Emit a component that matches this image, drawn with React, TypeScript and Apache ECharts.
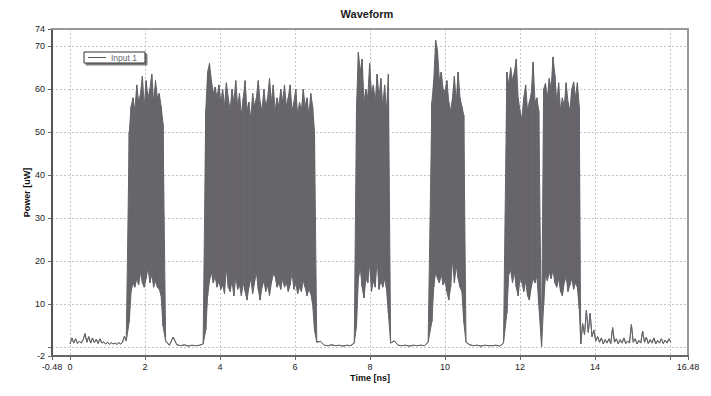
import { useEffect, useRef } from 'react';
import * as echarts from 'echarts';

const FONT = 'Liberation Sans, Arial, Helvetica, sans-serif';
const WAVE_COLOR = '#67656a';

// Axis ticks / labels
const xLabelValues = [-0.48, 0, 2, 4, 6, 8, 10, 12, 14, 16.48];
const xTickValues = [-0.48, 0, 2, 4, 6, 8, 10, 12, 14, 16, 16.48];
const yLabelValues = [-2, 10, 20, 30, 40, 50, 60, 70, 74];
const yTickValues = [-2, 0, 10, 20, 30, 40, 50, 60, 70, 74];

// Quiet (baseline) segments: start time [ns], sample step [ns], values [uW]
const quiet0Start = 0;
const quietStep = 0.05;
const quiet0 = [0.8, 2.2, 1.0, 2.0, 0.9, 1.4, 1.0, 1.8, 3.2, 1.2, 2.5, 1.0, 2.2, 1.1, 1.9, 0.9, 2.0, 1.0, 1.3, 0.8, 1.2, 0.7, 1.1, 0.8, 1.0, 0.7, 1.1, 0.8, 1.2, 2.6, 1.5];

const gapStarts = [2.55, 6.58, 8.55, 10.56];
const gapStep = 0.1;
const gap1 = [1.5, 0.5, 2.4, 0.6, 0.4, 0.6, 0.3, 0.5, 0.4, 0.5, 0.8];
const gap2 = [1.2, 1.4, 0.5, 0.4, 0.6, 0.4, 0.5, 0.3, 0.5, 0.4, 1.0];
const gap3 = [1.0, 1.5, 0.5, 0.4, 0.5, 0.3, 0.5, 0.4, 0.5, 0.4, 1.2];
const gap4 = [1.2, 0.6, 0.4, 0.5, 0.3, 0.5, 0.4, 0.4, 0.5, 0.3, 1.0];

const dipTime = 12.575;
const dipValue = 0.2;

const tailStart = 13.62;
const tail = [0.8, 5.5, 3.0, 8.6, 3.5, 7.9, 2.5, 4.0, 1.5, 2.5, 1.2, 2.2, 0.8, 1.8, 1.0, 2.0, 0.9, 4.6, 1.2, 2.0, 0.8, 1.8, 1.0, 2.2, 0.9, 1.5, 1.0, 5.3, 1.2, 2.0, 0.8, 1.6, 1.0, 3.8, 1.2, 2.4, 0.9, 1.8, 1.0, 2.2, 0.8, 1.6, 1.0, 2.0, 0.9, 1.7, 1.0, 2.0, 1.2];

// Modulated bursts: start time, sample step, upper (hi) and lower (lo) envelope samples [uW]
const burstStarts = [1.58, 3.62, 7.64, 9.65, 11.65, 12.63];
const burstStep = 0.05;

const burst1Hi = [50, 56, 58, 55, 61, 57, 59, 63, 56, 62, 58, 60, 63.5, 57, 62, 58, 59, 56, 52];
const burst1Lo = [6, 13, 15, 14, 16, 14.5, 17.5, 15, 14, 16, 18.5, 15, 17, 14, 15.5, 14, 13.5, 12, 5];

const burst2Hi = [
  55, 64, 66, 62, 59, 60.5, 58, 61, 57, 60,
  56, 61.5, 58, 55, 60, 57, 62, 56, 59, 54,
  58, 62, 55, 57, 53, 59, 56, 58, 62, 57,
  55, 60, 56, 58, 62.5, 57, 61, 55, 58, 56,
  60, 57, 61, 56, 58, 61, 55, 57, 60, 54,
  57, 55, 60, 56, 58, 54, 59, 56, 50,
];
const burst2Lo = [
  4, 12, 15.5, 17.5, 15, 16.5, 14, 15.5, 13.5, 14.5,
  12.5, 18.5, 14, 13, 15.5, 12, 16.5, 13.5, 14.5, 12,
  15, 13, 11, 14, 16, 12.5, 15, 17.5, 13.5, 11,
  14, 15.5, 13, 14.5, 12, 15, 17, 16.5, 14, 15,
  13.5, 16, 14, 15, 13, 14.5, 17.5, 13.5, 15, 12.5,
  14, 13, 15.5, 14, 12, 13.5, 12.5, 10, 4,
];

const burst3Hi = [56, 68.6, 64, 67, 57, 60, 58, 66, 59, 61, 57, 63.5, 58, 62.5, 56, 61, 55, 63.5];
const burst3Lo = [5, 16, 18.5, 14, 11.5, 16, 15, 19.5, 13, 15.5, 14, 20.5, 13.5, 15.5, 14, 16, 13.5, 8];

const burst4Hi = [57, 62, 71.4, 69, 62, 64, 60, 59.5, 62, 57, 55, 58, 63, 57, 64, 58, 56, 54];
const burst4Lo = [6, 14, 17.5, 16, 15, 17, 14.5, 15.5, 13, 11, 14, 20.5, 15, 19, 16, 14, 13, 6];

const burst5Hi = [64, 61, 65, 62, 64, 67, 58, 55, 53, 58, 61, 55, 57, 59, 66.3, 57, 58, 55];
const burst5Lo = [8, 17, 18, 15, 17.5, 14, 12, 16, 15, 13, 15.5, 12, 11, 14, 16, 15, 16.5, 10];

const burst6Hi = [60, 61.4, 58, 62.5, 60, 67.5, 63.3, 57, 61.5, 55, 58, 56, 61.5, 57, 55, 60, 61.7, 58, 61.5, 56];
const burst6Lo = [10, 17, 15.5, 17.5, 16, 18, 15, 14, 16, 13, 12, 15, 16.5, 13, 14.5, 16, 13.5, 15, 14, 9];

// Table of samples: [time, lower envelope, upper envelope]; quiet samples have lo = hi.
type Row = [number, number, number];
const waveRows: Row[] = [];

function addQuiet(start: number, step: number, vals: number[]) {
  vals.forEach((v, i) => waveRows.push([+(start + i * step).toFixed(4), v, v]));
}

function addBurst(start: number, hi: number[], lo: number[]) {
  hi.forEach((h, i) => waveRows.push([+(start + i * burstStep).toFixed(4), lo[i], h]));
}

addQuiet(quiet0Start, quietStep, quiet0);
addBurst(burstStarts[0], burst1Hi, burst1Lo);
addQuiet(gapStarts[0], gapStep, gap1);
addBurst(burstStarts[1], burst2Hi, burst2Lo);
addQuiet(gapStarts[1], gapStep, gap2);
addBurst(burstStarts[2], burst3Hi, burst3Lo);
addQuiet(gapStarts[2], gapStep, gap3);
addBurst(burstStarts[3], burst4Hi, burst4Lo);
addQuiet(gapStarts[3], gapStep, gap4);
addBurst(burstStarts[4], burst5Hi, burst5Lo);
addQuiet(dipTime, quietStep, [dipValue]);
addBurst(burstStarts[5], burst6Hi, burst6Lo);
addQuiet(tailStart, quietStep, tail);

export default function App() {
  const ref = useRef<HTMLDivElement>(null);

  useEffect(() => {
    if (!ref.current) return;
    const chart = echarts.init(ref.current, null, { renderer: 'svg' });
    const fmt = (v: number) => String(+v.toFixed(2));
    const count = waveRows.length;

    const renderItem = (params: any, api: any) => {
      const i = params.dataIndexInside;
      if (i >= count - 1) return null;
      const t0 = api.value(0, i);
      const lo0 = api.value(1, i);
      const hi0 = api.value(2, i);
      const t1 = api.value(0, i + 1);
      const lo1 = api.value(1, i + 1);
      const hi1 = api.value(2, i + 1);
      const points = [
        api.coord([t0, lo0]),
        api.coord([t0, hi0]),
        api.coord([t1, hi1]),
        api.coord([t1, lo1]),
      ];
      return {
        type: 'polygon',
        shape: { points },
        style: { fill: WAVE_COLOR, stroke: WAVE_COLOR, lineWidth: 1, lineJoin: 'miter' },
        silent: true,
      };
    };

    chart.setOption({
      animation: false,
      backgroundColor: '#ffffff',
      title: {
        text: 'Waveform',
        left: 367,
        top: 8,
        padding: 0,
        textAlign: 'center',
        textStyle: { fontSize: 11, fontWeight: 'bold', color: '#1a1a1a', fontFamily: FONT },
      },
      legend: {
        left: 84,
        top: 52,
        data: [{ name: 'Input 1', icon: 'rect', itemStyle: { color: '#555555' } }],
        selectedMode: false,
        itemWidth: 18,
        itemHeight: 1,
        itemGap: 0,
        padding: [1, 8, 1, 4],
        backgroundColor: '#ffffff',
        borderColor: '#333333',
        borderWidth: 1,
        borderRadius: 0,
        shadowColor: 'rgba(0,0,0,0.5)',
        shadowOffsetX: 2,
        shadowOffsetY: 2,
        shadowBlur: 0,
        textStyle: { fontSize: 8.5, color: '#6a6a6a', fontFamily: FONT },
      },
      grid: {
        left: 52,
        top: 29,
        right: 23,
        bottom: 40,
        containLabel: false,
        outerBoundsMode: 'none',
      },
      xAxis: [
        {
          type: 'value',
          position: 'bottom',
          min: -0.48,
          max: 16.48,
          name: 'Time [ns]',
          nameLocation: 'middle',
          nameGap: 17,
          nameMoveOverlap: false,
          nameTextStyle: { fontSize: 9, fontWeight: 'bold', color: '#111', fontFamily: FONT },
          axisLine: { show: true, onZero: false, lineStyle: { color: '#666', width: 2 } },
          axisTick: { show: true, length: 4, customValues: xTickValues, lineStyle: { color: '#666' } },
          axisLabel: { customValues: xLabelValues, fontSize: 9, color: '#222', margin: 6, fontFamily: FONT, formatter: fmt },
          splitLine: { show: true, lineStyle: { color: '#c4c4c4', type: [2, 2], width: 1 } },
        },
        {
          type: 'value',
          position: 'top',
          min: -0.48,
          max: 16.48,
          axisLine: { show: true, onZero: false, lineStyle: { color: '#999', width: 2 } },
          axisTick: { show: false },
          axisLabel: { show: false },
          splitLine: { show: false },
        },
      ],
      yAxis: [
        {
          type: 'value',
          position: 'left',
          min: -2,
          max: 74,
          name: 'Power [uW]',
          nameLocation: 'middle',
          nameGap: 21,
          nameMoveOverlap: false,
          nameTextStyle: { fontSize: 9, fontWeight: 'bold', color: '#111', fontFamily: FONT },
          axisLine: { show: true, onZero: false, lineStyle: { color: '#555', width: 2 } },
          axisTick: { show: true, length: 4, customValues: yTickValues, lineStyle: { color: '#666' } },
          axisLabel: { customValues: yLabelValues, fontSize: 9, color: '#222', margin: 7, fontFamily: FONT, formatter: fmt },
          splitLine: { show: true, lineStyle: { color: '#c4c4c4', type: [2, 2], width: 1 } },
        },
        {
          type: 'value',
          position: 'right',
          min: -2,
          max: 74,
          axisLine: { show: true, onZero: false, lineStyle: { color: '#999', width: 2 } },
          axisTick: { show: false },
          axisLabel: { show: false },
          splitLine: { show: false },
        },
      ],
      series: [
        {
          name: 'Input 1',
          type: 'custom',
          xAxisIndex: 0,
          yAxisIndex: 0,
          data: waveRows,
          dimensions: ['time', 'lower', 'upper'],
          encode: { x: 0, y: [1, 2] },
          renderItem,
          clip: true,
          itemStyle: { color: WAVE_COLOR },
          z: 3,
        },
      ],
    });
    return () => chart.dispose();
  }, []);

  return (
    <div
      ref={ref}
      style={{ position: 'fixed', left: 0, top: 0, width: 711, height: 396 }}
    />
  );
}
